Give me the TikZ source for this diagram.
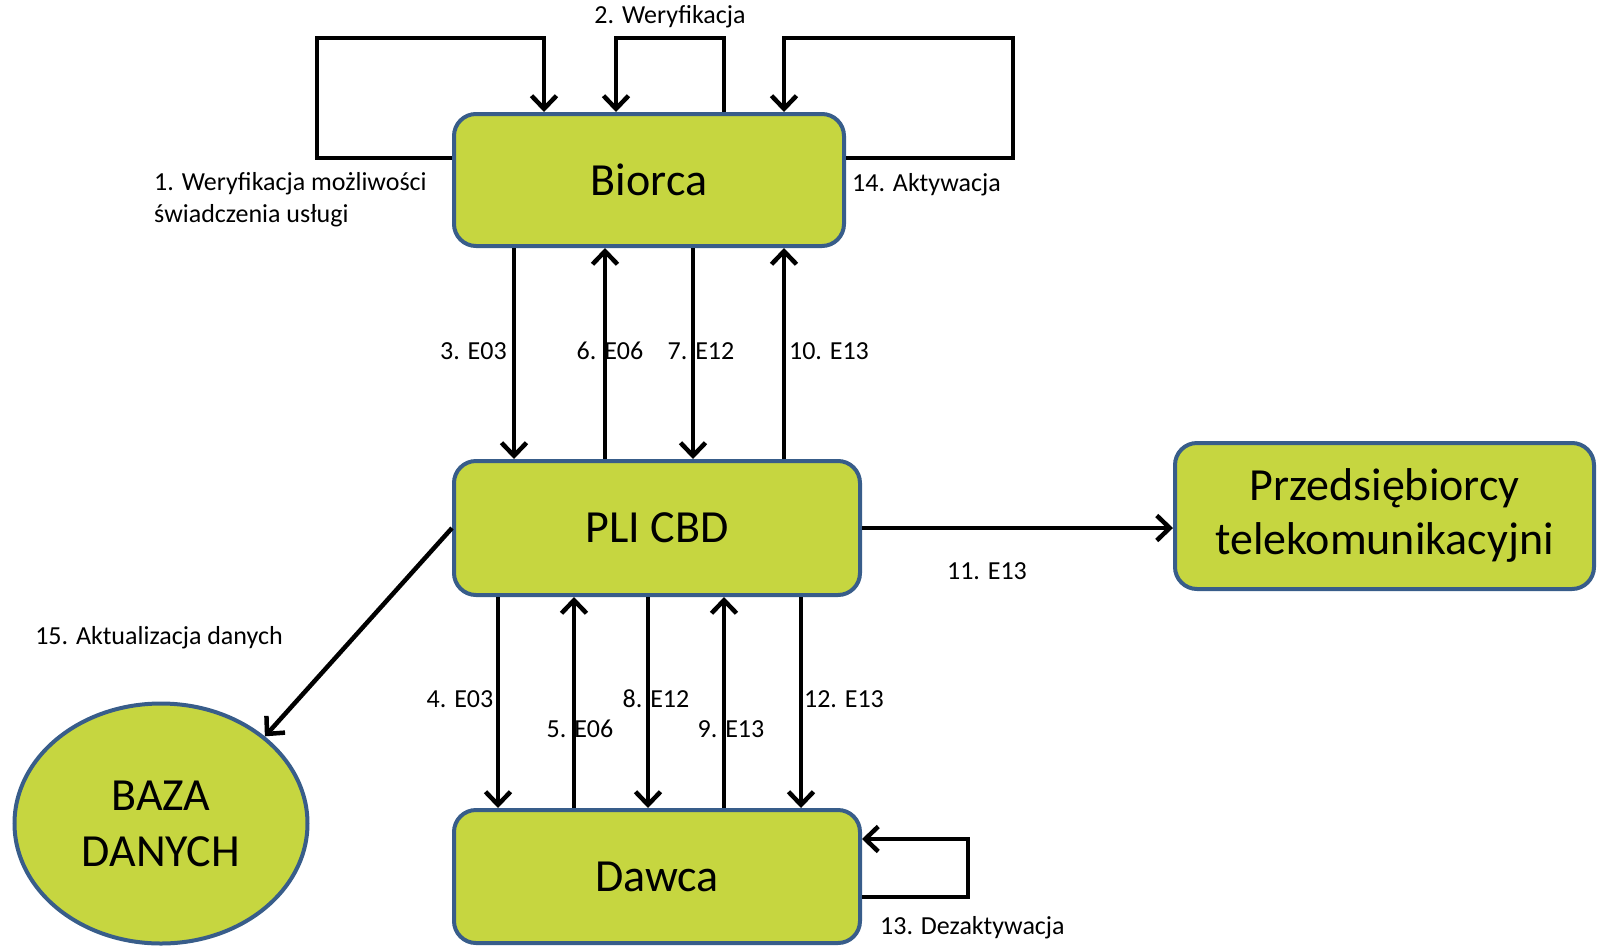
\documentclass[tikz,border=0pt]{standalone}
\usepackage{fontspec}
\setmainfont{Carlito}
\usetikzlibrary{arrows.meta,shapes.geometric}
\definecolor{boxfill}{RGB}{198,214,64}
\definecolor{boxline}{RGB}{56,93,138}

\begin{document}
\begin{tikzpicture}[x=1pt,y=-1pt,
  box/.style={draw=boxline,fill=boxfill,line width=4pt,rounded corners=22pt,inner sep=0pt,
    align=center,font=\fontsize{46}{56}\selectfont},
  arr/.style={line width=4.5pt,-{Straight Barb[length=13pt,width=25pt]}},
  lbl/.style={inner sep=0pt,font=\fontsize{26}{32}\selectfont}]
\useasboundingbox (0,0) rectangle (1599,946);

\node[box,minimum width=390pt,minimum height=132pt] (biorca) at (649,180) {Biorca};
\node[box,minimum width=406pt,minimum height=134pt] (pli) at (657,528) {PLI CBD};
\node[box,minimum width=406pt,minimum height=133pt] (dawca) at (657,876.5) {Dawca};
\node[box,minimum width=419pt,minimum height=146pt] (przed) at (1384.5,516) {\raisebox{-4pt}{\begin{tabular}{@{}c@{}}Przedsiębiorcy\\[-2pt]telekomunikacyjni\end{tabular}}};
\node[box,ellipse,rounded corners=0pt,minimum width=293pt,minimum height=240pt] (baza) at (161,823.5) {BAZA\\DANYCH};

\draw[arr] (biorca.west |- 0,158) -- (317,158) -- (317,38) -- (544,38) -- (biorca.north -| 544,0);
\draw[arr] (biorca.north -| 724,0) -- (724,38) -- (616,38) -- (biorca.north -| 616,0);
\draw[arr] (biorca.east |- 0,158) -- (1013,158) -- (1013,38) -- (784,38) -- (biorca.north -| 784,0);

\draw[arr] (biorca.south -| 514,0) -- (pli.north -| 514,0);
\draw[arr] (pli.north -| 605,0) -- (biorca.south -| 605,0);
\draw[arr] (biorca.south -| 693,0) -- (pli.north -| 693,0);
\draw[arr] (pli.north -| 784,0) -- (biorca.south -| 784,0);

\draw[arr] (pli.south -| 498,0) -- (dawca.north -| 498,0);
\draw[arr] (dawca.north -| 574,0) -- (pli.south -| 574,0);
\draw[arr] (pli.south -| 648,0) -- (dawca.north -| 648,0);
\draw[arr] (dawca.north -| 724,0) -- (pli.south -| 724,0);
\draw[arr] (pli.south -| 801,0) -- (dawca.north -| 801,0);

\draw[arr] (pli.east) -- (przed.west |- pli.east);
\draw[arr] (pli.west) -- (baza.40);
\draw[arr] (dawca.east |- 0,897) -- (968,897) -- (968,839) -- (dawca.east |- 0,839);

\node[lbl] (l2) at (670,17) {2. Weryfikacja};
\node[lbl,anchor=west,align=left] (l1) at (154,200) {1. Weryfikacja możliwości\\świadczenia usługi};
\node[lbl,anchor=west] (l14) at (852,185) {14. Aktywacja};
\node[lbl,anchor=east] (l3) at (507,351) {3. E03};
\node[lbl] (l6) at (610,351) {6. E06};
\node[lbl] (l7) at (701,351) {7. E12};
\node[lbl] (l10) at (829,351) {10. E13};
\node[lbl] (l11) at (987,571) {11. E13};
\node[lbl] (l15) at (159,638) {15. Aktualizacja danych};
\node[lbl] (l4) at (460,699) {4. E03};
\node[lbl] (l5) at (580,729) {5. E06};
\node[lbl] (l8) at (656,699) {8. E12};
\node[lbl] (l9) at (731,729) {9. E13};
\node[lbl] (l12) at (844,699) {12. E13};
\node[lbl,anchor=west] (l13) at (880,928) {13. Dezaktywacja};
\end{tikzpicture}
\end{document}
